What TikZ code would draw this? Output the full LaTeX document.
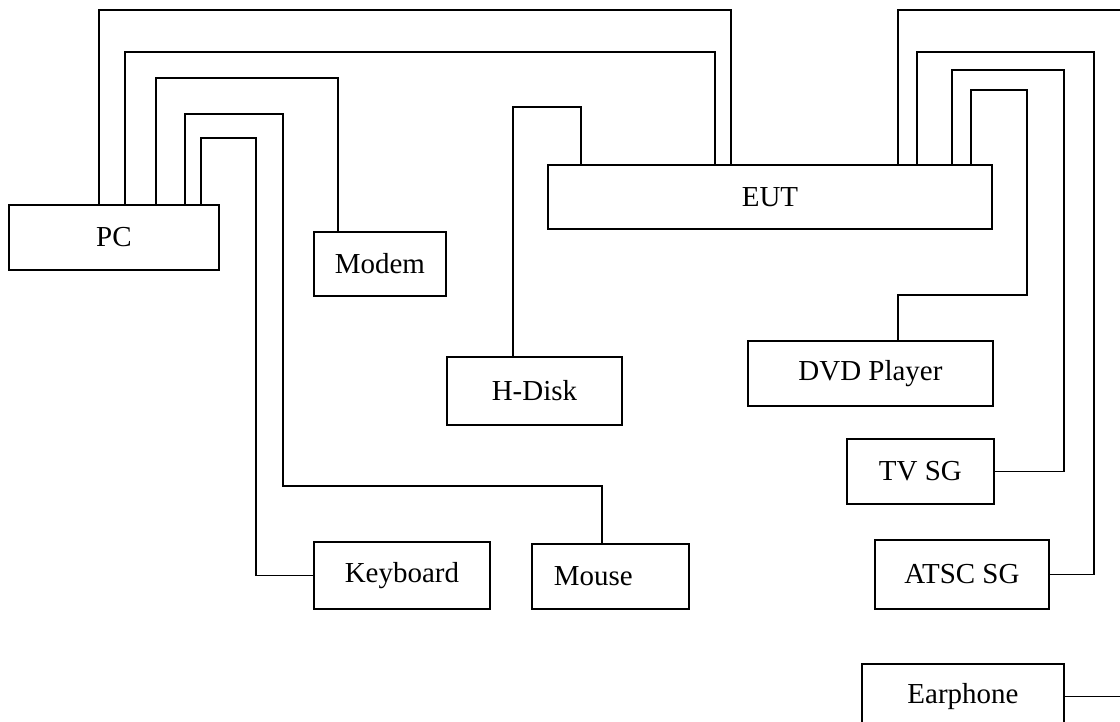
\documentclass[tikz,border=0pt]{standalone}
\usepackage{fontspec}
\setmainfont{Liberation Serif}
\usepackage{tikz}

\tikzset{unitbox/.style={draw, line width=1.3pt, anchor=north west, inner sep=0pt,
    font=\fontsize{20.6}{24}\selectfont}}

\begin{document}
\begin{tikzpicture}[x=0.025cm, y=-0.025cm, line width=1.3pt]
  \useasboundingbox (0,0) rectangle (1120,722);
  \clip (0,0) rectangle (1120,722);
  % units
  \node[unitbox, minimum width=5.25cm, minimum height=1.625cm] (pc) at (8,204) {PC};
  \node[unitbox, minimum width=3.3cm, minimum height=1.6cm] (modem) at (313,231) {Modem};
  \node[unitbox, minimum width=11.1cm, minimum height=1.6cm] (eut) at (547,164) {EUT};
  \node[unitbox, minimum width=4.375cm, minimum height=1.7cm] (hdisk) at (446,356) {H-Disk};
  \node[unitbox, minimum width=6.125cm, minimum height=1.625cm] (dvd) at (747,340) {DVD Player};
  \node[unitbox, minimum width=3.675cm, minimum height=1.625cm] (tvsg) at (846,438) {TV SG};
  \node[unitbox, minimum width=4.35cm, minimum height=1.725cm] (atsc) at (874,539) {ATSC SG};
  \node[unitbox, minimum width=4.4cm, minimum height=1.675cm] (keyboard) at (313,541) {Keyboard};
  \node[unitbox, inner xsep=0.55cm, text width=2.825cm, align=left, minimum height=1.625cm] (mouse) at (531,543) {Mouse};
  \node[unitbox, minimum width=5.05cm, minimum height=1.625cm] (earphone) at (861,663) {Earphone};

  % cables from PC
  \draw (99,0 |- pc.north) |- (731,10) -- (731,0 |- eut.north);
  \draw (125,0 |- pc.north) |- (715,52) -- (715,0 |- eut.north);
  \draw (156,0 |- pc.north) |- (338,78) -- (338,0 |- modem.north);
  \draw (185,0 |- pc.north) |- (283,114) |- (602,486) -- (602,0 |- mouse.north);
  \draw (201,0 |- pc.north) |- (256,138) |- (keyboard.west);
  \draw (513,0 |- hdisk.north) |- (581,107) -- (581,0 |- eut.north);

  % cables from EUT
  \draw (898,0 |- eut.north) |- (1125,10) |- (earphone.east);
  \draw (917,0 |- eut.north) |- (1094,52) |- (atsc.east);
  \draw (952,0 |- eut.north) |- (1064,70) |- (tvsg.east);
  \draw (971,0 |- eut.north) |- (1027,90) |- (898,295) -- (898,0 |- dvd.north);
\end{tikzpicture}
\end{document}
